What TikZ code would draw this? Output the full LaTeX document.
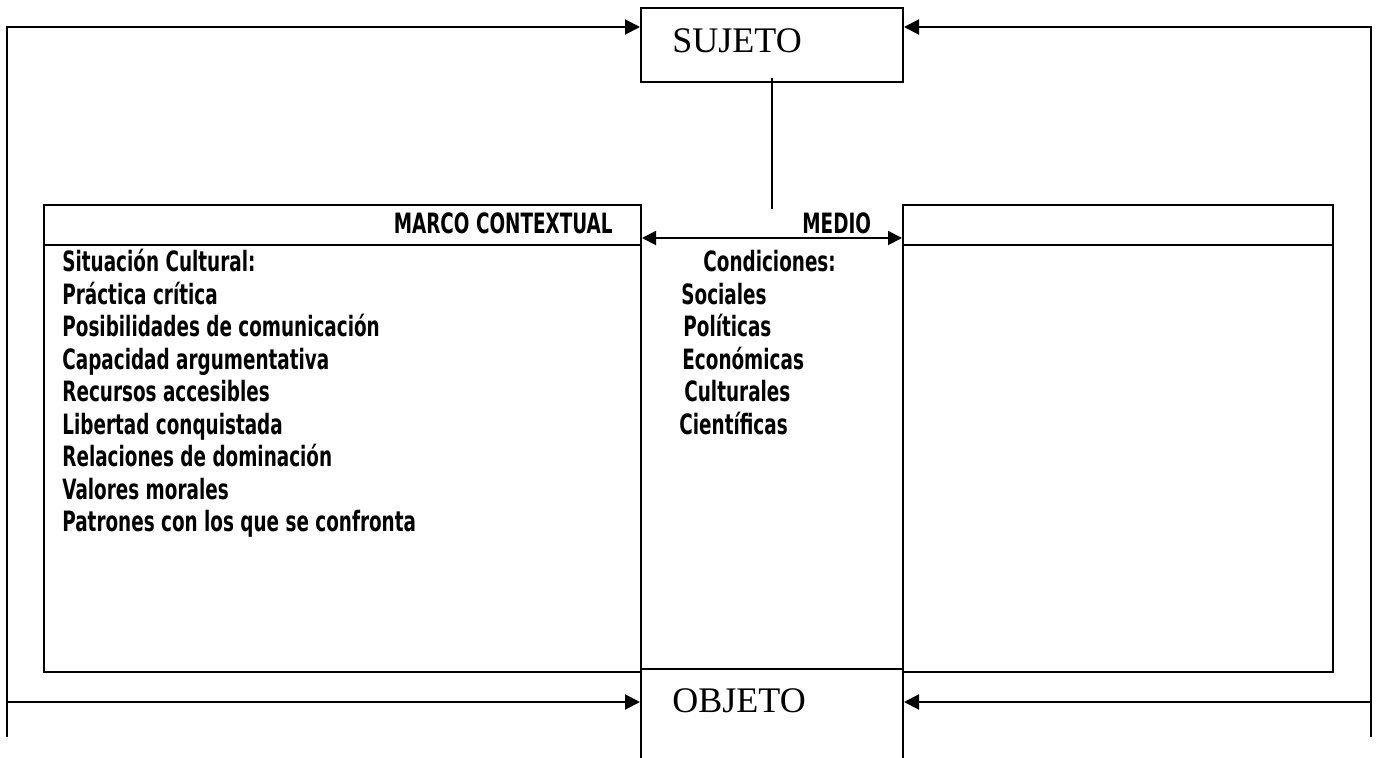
\documentclass[tikz,border=0pt]{standalone}
\usepackage{fontspec}
\setmainfont{Liberation Serif}
\newfontfamily\agencia[FakeStretch=0.73]{DejaVu Sans Condensed}
\usetikzlibrary{arrows.meta}
\tikzset{
  caja/.style={draw, line width=1pt, inner sep=0pt},
  linea/.style={line width=1pt},
  flecha/.style={line width=1pt, -{Triangle[length=7.5pt,width=7.5pt]}},
  ambas/.style={line width=1pt, {Triangle[length=7pt,width=7pt]}-{Triangle[length=7pt,width=7pt]}},
  texto/.style={anchor=base west, inner sep=0pt, font=\agencia\bfseries\fontsize{14pt}{16pt}\selectfont},
  titulo/.style={anchor=base west, inner sep=0pt, font=\fontsize{18pt}{20pt}\selectfont}
}
\begin{document}
\begin{tikzpicture}[x=0.5pt,y=-0.5pt]
\useasboundingbox (0,0) rectangle (1378,758);
\clip (0,0) rectangle (1378,758);
% cajas
\node [caja, minimum width=131pt, minimum height=37pt] (sujeto) at (772,45) {};
\node [titulo] (sujetotxt) at (672,53) {SUJETO};
\node [caja, minimum width=298.5pt, minimum height=233.5pt] (marco) at (342.5,438.5) {};
\node [caja, minimum width=215pt, minimum height=233.5pt] (derecha) at (1118,438.5) {};
\node [caja, minimum width=131pt, minimum height=89pt] (objeto) at (772,758) {};
\node [titulo] (objetotxt) at (672,713) {OBJETO};
% divisiones
\coordinate (div) at (0,245);
\draw [linea] (marco.west |- div) -- (marco.east |- div);
\draw [linea] (derecha.west |- div) -- (derecha.east |- div);
% marco exterior
\coordinate (esqA) at (7,27);
\coordinate (esqB) at (1371,27);
\coordinate (pieA) at (7,737);
\coordinate (pieB) at (1371,737);
\coordinate (medA) at (7,702);
\coordinate (medB) at (1371,702);
\draw [flecha] (pieA) -- (esqA) -- (sujeto.west |- esqA);
\draw [flecha] (pieB) -- (esqB) -- (sujeto.east |- esqB);
\draw [flecha] (medA) -- (objeto.west |- medA);
\draw [flecha] (medB) -- (objeto.east |- medB);
% medio
\coordinate (bajo) at (773,209);
\draw [linea] ([yshift=2.5pt]sujeto.south) -- (sujeto.south |- bajo);
\coordinate (flechamedio) at (0,238);
\draw [ambas] (marco.east |- flechamedio) -- (derecha.west |- flechamedio);
% textos
\node [texto, anchor=base east] (marcotxt) at (613,234) {MARCO CONTEXTUAL};
\node [texto] (mediotxt) at (802,234) {MEDIO};
\node [texto] (sit) at (62,272) {Situación Cultural:};
\node [texto] (prac) at (62,304.5) {Práctica crítica};
\node [texto] (posi) at (62,337) {Posibilidades de comunicación};
\node [texto] (capa) at (62,369.5) {Capacidad argumentativa};
\node [texto] (recu) at (62,402) {Recursos accesibles};
\node [texto] (libe) at (62,434.5) {Libertad conquistada};
\node [texto] (rela) at (62,467) {Relaciones de dominación};
\node [texto] (valo) at (62,499.5) {Valores morales};
\node [texto] (patr) at (62,532) {Patrones con los que se confronta};
\node [texto] (cond) at (703,272) {Condiciones:};
\node [texto] (soci) at (681,304.5) {Sociales};
\node [texto] (poli) at (683,337) {Políticas};
\node [texto] (econ) at (682,369.5) {Económicas};
\node [texto] (cult) at (684,402) {Culturales};
\node [texto] (cien) at (679,434.5) {Científicas};
\end{tikzpicture}
\end{document}
